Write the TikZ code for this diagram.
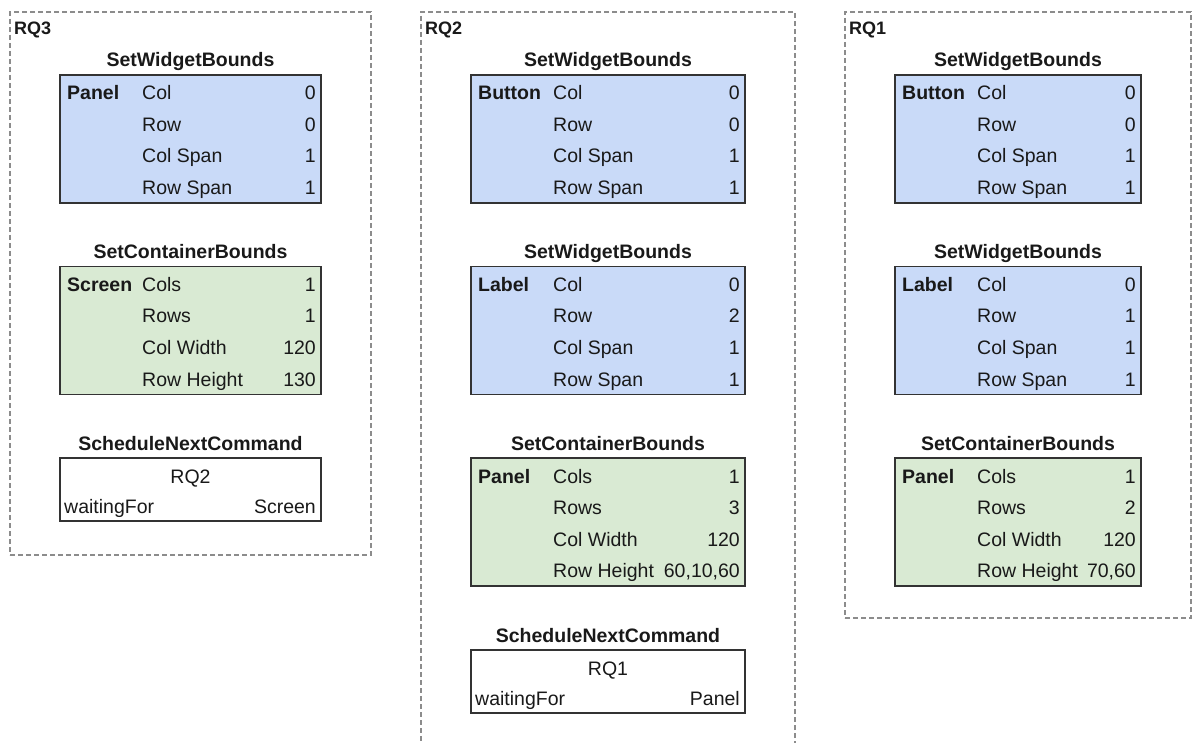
\documentclass[tikz,border=0pt]{standalone}
\usepackage{fontspec}
\setmainfont{Liberation Sans}
\tikzset{
  txt/.style={font=\fontsize{19.5}{22}\selectfont, inner sep=0pt, text=black!90},
  boldtxt/.style={txt, font=\fontsize{19.5}{22}\selectfont\bfseries},
  grouplabel/.style={inner sep=0pt, font=\fontsize{18}{20}\selectfont\bfseries, text=black!90},
  cmdbox/.style={draw=black!80, line width=1.3pt, inner sep=0pt, outer sep=0pt},
  widgetfill/.style={fill={rgb,255:red,201;green,218;blue,248}},
  containerfill/.style={fill={rgb,255:red,217;green,234;blue,211}},
  plainfill/.style={fill=white},
  group/.style={draw=black!45, line width=1.1pt, dash pattern=on 5pt off 3pt, inner sep=0pt, outer sep=0pt}
}
% A titled parameter table: id, left, top, right, fill style, title, label, key/value rows
\newcommand\cmdtable[8]{%
  \node[cmdbox, #5, minimum width={#4-#2}, minimum height=128, anchor=north west] (#1) at (#2,#3) {};
  \node[boldtxt, anchor=base] (#1-title) at ({(#2+#4)/2},{#3-8}) {#6};
  \node[boldtxt, anchor=base west] (#1-label) at ({#2+7},{#3+25}) {#7};
  \foreach \k/\v [count=\i from 0] in {#8} {
    \node[txt, anchor=base west] (#1-k\i) at ({#2+82},{#3+25+31.5*\i}) {\k};
    \node[txt, anchor=base east] (#1-v\i) at ({#4-5},{#3+25+31.5*\i}) {\v};
  }%
}
% The scheduling box: id, left, top, right, target, waited-for widget
\newcommand\schedbox[6]{%
  \node[cmdbox, plainfill, minimum width={#4-#2}, minimum height=63, anchor=north west] (#1) at (#2,#3) {};
  \node[boldtxt, anchor=base] (#1-title) at ({(#2+#4)/2},{#3-8}) {ScheduleNextCommand};
  \node[txt, anchor=base] (#1-target) at ({(#2+#4)/2},{#3+25}) {#5};
  \node[txt, anchor=base west] (#1-k) at ({#2+4},{#3+55}) {waitingFor};
  \node[txt, anchor=base east] (#1-v) at ({#4-5},{#3+55}) {#6};
}
\begin{document}
\begin{tikzpicture}[x=1pt, y=-1pt]
\useasboundingbox (0,0) rectangle (1192,743);

% request groups
\node[group, minimum width=361, minimum height=543, anchor=north west] (rq3) at (10,12) {};
\node[grouplabel, anchor=base west] (rq3-name) at (14,35) {RQ3};
\node[group, minimum width=374, minimum height=760, anchor=north west] (rq2) at (421,12) {};
\node[grouplabel, anchor=base west] (rq2-name) at (425,35) {RQ2};
\node[group, minimum width=346, minimum height=606, anchor=north west] (rq1) at (845,12) {};
\node[grouplabel, anchor=base west] (rq1-name) at (849,35) {RQ1};

% RQ3
\cmdtable{rq3a}{60}{75}{321}{widgetfill}{SetWidgetBounds}{Panel}{Col/0,Row/0,Col Span/1,Row Span/1}
\cmdtable{rq3b}{60}{266.5}{321}{containerfill}{SetContainerBounds}{Screen}{Cols/1,Rows/1,Col Width/120,Row Height/130}
\schedbox{rq3c}{60}{458}{321}{RQ2}{Screen}

% RQ2
\cmdtable{rq2a}{471}{75}{745}{widgetfill}{SetWidgetBounds}{Button}{Col/0,Row/0,Col Span/1,Row Span/1}
\cmdtable{rq2b}{471}{266.5}{745}{widgetfill}{SetWidgetBounds}{Label}{Col/0,Row/2,Col Span/1,Row Span/1}
\cmdtable{rq2c}{471}{458}{745}{containerfill}{SetContainerBounds}{Panel}{Cols/1,Rows/3,Col Width/120,Row Height/{60,10,60}}
\schedbox{rq2d}{471}{650}{745}{RQ1}{Panel}

% RQ1
\cmdtable{rq1a}{895}{75}{1141}{widgetfill}{SetWidgetBounds}{Button}{Col/0,Row/0,Col Span/1,Row Span/1}
\cmdtable{rq1b}{895}{266.5}{1141}{widgetfill}{SetWidgetBounds}{Label}{Col/0,Row/1,Col Span/1,Row Span/1}
\cmdtable{rq1c}{895}{458}{1141}{containerfill}{SetContainerBounds}{Panel}{Cols/1,Rows/2,Col Width/120,Row Height/{70,60}}
\end{tikzpicture}
\end{document}
